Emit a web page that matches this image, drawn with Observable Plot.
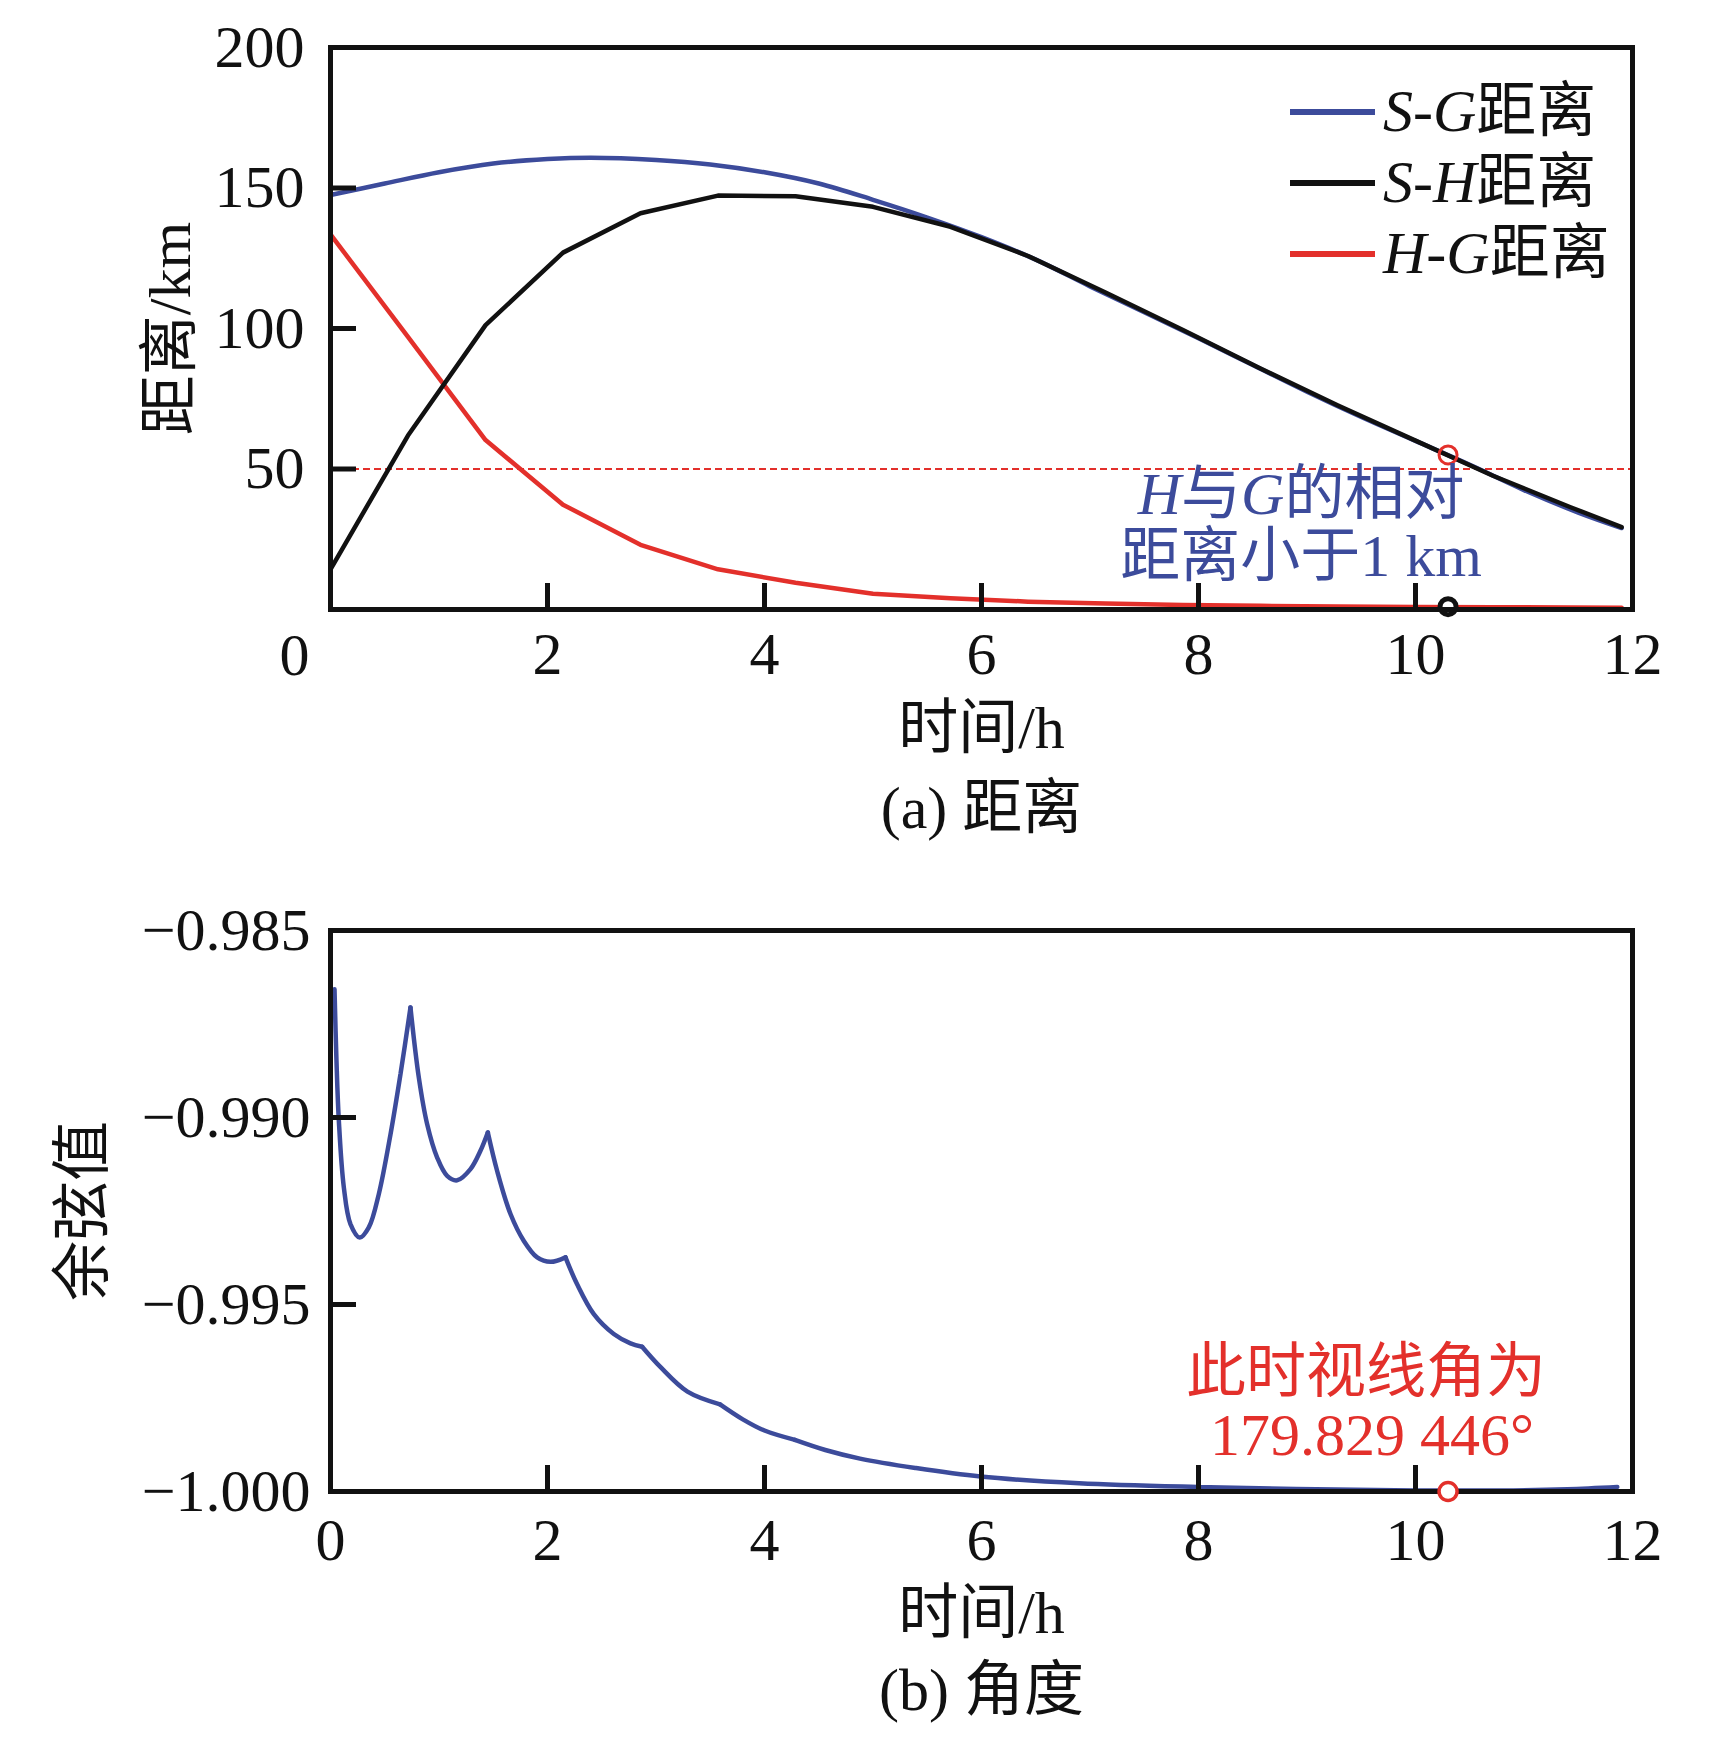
<!DOCTYPE html>
<html><head><meta charset="utf-8">
<script src="https://cdn.jsdelivr.net/npm/d3@7"></script>
<script src="https://cdn.jsdelivr.net/npm/@observablehq/plot@0.6"></script>
<style>
body{margin:0;background:#fff;}
#wrap{position:relative;width:1713px;height:1747px;background:#fff;font-family:"Liberation Serif","Noto Sans CJK SC",serif;}
#wrap svg{display:block;}
.leg{position:absolute;left:1290px;display:flex;align-items:center;height:71px;font-size:60px;color:#111;white-space:nowrap;line-height:71px;}
.leg .sw{display:inline-block;width:85px;height:6px;margin-right:8px;}
</style></head><body>
<div id="wrap"><div id="a"></div><div id="b"></div><div id="legend"></div></div>
<script>
// ---- data: (a) distances ----
const sgTime = [0,0.5,1,1.5,2,2.4,3,3.5,4,4.5,5,5.5,6,6.5,7,7.5,8,8.5,9,9.5,10,10.5,11,11.5,11.9];
const sgDist = [147.5,151.6,155.6,158.7,160.3,160.8,160,158.4,155.6,151.6,145.8,139.5,132.5,124.5,115,105.8,96.5,87,77.5,68.5,60,51.5,42.5,34.5,29];
const gridTime = [0,0.714,1.429,2.143,2.857,3.571,4.286,5,5.714,6.429,7.143,7.857,8.571,9.286,10,10.714,11.429,11.9];
const shDist = [14.3,61.9,101.2,127,141,147.3,147.1,143.3,136.2,125.8,112.8,99.5,85.8,72.6,60.1,47.6,36.4,29.3];
const hgDist = [133.5,97,60.3,37.3,23,14.3,9.5,5.6,4.0,2.8,2.1,1.6,1.3,1.1,0.9,0.8,0.7,0.6];
const thresholdDist = 50;
const markTime = 10.3;
const markSG = 55;
const markHG = 1.0;
// ---- data: (b) cosine ----
const cosTime = [0.037,0.055,0.077,0.123,0.184,0.27,0.353,0.445,0.553,0.645,0.737,0.814,0.891,0.983,1.075,1.167,1.29,1.382,1.45,1.536,1.659,1.782,1.905,2.028,2.166,2.273,2.427,2.611,2.765,2.872,3.04,3.29,3.59,3.8,4.0,4.28,4.56,4.88,5.39,5.99,6.9,7.99,8.9,9.99,10.9,11.4,11.86];
const cosValue = [-0.98657,-0.98848,-0.99009,-0.99187,-0.99285,-0.99321,-0.99294,-0.99205,-0.99045,-0.98884,-0.98706,-0.98893,-0.99018,-0.99107,-0.99156,-0.99168,-0.99138,-0.99089,-0.9904,-0.99143,-0.99258,-0.9933,-0.99374,-0.99386,-0.99374,-0.99446,-0.99526,-0.99579,-0.99604,-0.99613,-0.99667,-0.99733,-0.99767,-0.99807,-0.99837,-0.99862,-0.99889,-0.99912,-0.99937,-0.9996,-0.99978,-0.99988,-0.99993,-0.99997,-0.99997,-0.99994,-0.99988];
const cuspTime = [0.737,1.45,2.166,2.872,3.59,4.28];
const markCos = -1.0;
// ---- ticks / labels ----
const xTickMarks = [2,4,6,8,10];
const xLabelsA = [2,4,6,8,10,12];
const xLabelsB = [0,2,4,6,8,10,12];
const yTickMarksA = [50,100,150];
const yLabelsA = [50,100,150,200];
const yTickMarksB = [-0.995,-0.990];
const yLabelsB = [-1.000,-0.995,-0.990,-0.985];
const legendNames = ["S-G距离","S-H距离","H-G距离"];
const xTitle = "时间/h";
const yTitleA = "距离/km";
const yTitleB = "余弦值";
const captionA = "(a) 距离";
const captionB = "(b) 角度";
const noteA = ["H与G的相对","距离小于1 km"];
const noteB = ["此时视线角为","179.829 446°"];

const BLUE = "#3c4b9b", RED = "#e3302b", BLACK = "#111";
const FONT = '"Liberation Serif","Noto Sans CJK SC",serif';
const FS = 60;
const style = {fontFamily: FONT, fontSize: FS + "px", color: BLACK, background: "white", overflow: "visible"};
const rows = (xs, ys) => xs.map((t, i) => ({t, v: ys[i]}));

// split the cosine curve into smooth pieces that meet at the cusps
const cosRows = [];
cosTime.forEach((t, i) => {
  const seg = cuspTime.filter(c => c < t - 1e-9).length;
  cosRows.push({t, v: cosValue[i], seg});
  if (cuspTime.some(c => Math.abs(c - t) < 1e-9)) cosRows.push({t, v: cosValue[i], seg: seg + 1});
});

const chartA = Plot.plot({
  width: 1713, height: 870,
  marginLeft: 330, marginRight: 81, marginTop: 47, marginBottom: 261,
  x: {domain: [0, 12]}, y: {domain: [0, 200]},
  style,
  marks: [
    Plot.ruleY([thresholdDist], {stroke: RED, strokeWidth: 2, strokeDasharray: "7,4"}),
    Plot.line(rows(sgTime, sgDist), {x: "t", y: "v", stroke: BLUE, strokeWidth: 4.5, curve: "catmull-rom"}),
    Plot.line(rows(gridTime, hgDist), {x: "t", y: "v", stroke: RED, strokeWidth: 4.5}),
    Plot.line(rows(gridTime, shDist), {x: "t", y: "v", stroke: BLACK, strokeWidth: 4.5}),
    Plot.dot([{t: markTime, v: markSG}], {x: "t", y: "v", r: 9, stroke: RED, strokeWidth: 3, fill: "none"}),
    Plot.dot([{t: markTime, v: markHG}], {x: "t", y: "v", r: 8, stroke: BLACK, strokeWidth: 5, fill: "white"}),
    Plot.text([{t: markTime, s: noteA[0]}], {x: "t", frameAnchor: "bottom", text: "s", dx: -147, dy: -115, fill: BLUE, fontSize: FS, lineAnchor: "middle", textAnchor: "middle"}),
    Plot.text([{t: markTime, s: noteA[1]}], {x: "t", frameAnchor: "bottom", text: "s", dx: -147, dy: -53, fill: BLUE, fontSize: FS, lineAnchor: "middle", textAnchor: "middle"}),
    Plot.frame({stroke: BLACK, strokeWidth: 5}),
    Plot.axisX({ticks: xTickMarks, tickSize: -26, strokeWidth: 5, tickFormat: () => "", label: null}),
    Plot.axisY({ticks: yTickMarksA, tickSize: -26, strokeWidth: 5, tickFormat: () => "", label: null}),
    Plot.axisX({ticks: xLabelsA, tickSize: 0, tickPadding: 22, fontSize: FS, label: null, fill: BLACK}),
    Plot.text([0], {x: d => d, text: d => String(d), frameAnchor: "bottom", dx: -36, dy: 46, lineAnchor: "middle", textAnchor: "middle", fontSize: FS, fill: BLACK}),
    Plot.axisY({ticks: yLabelsA, tickSize: 0, tickPadding: 26, fontSize: FS, label: null, fill: BLACK}),
    Plot.text([xTitle], {frameAnchor: "bottom", dy: 119, lineAnchor: "middle", textAnchor: "middle", fontSize: FS, fill: BLACK}),
    Plot.text([captionA], {frameAnchor: "bottom", dy: 199, lineAnchor: "middle", textAnchor: "middle", fontSize: FS, fill: BLACK}),
    Plot.text([yTitleA], {frameAnchor: "left", dx: -160, rotate: -90, lineAnchor: "middle", textAnchor: "middle", fontSize: FS, fill: BLACK})
  ]
});

const fmtB = d => d3.format(".3f")(d).replace("-", "\u2212");
const chartB = Plot.plot({
  width: 1713, height: 877,
  marginLeft: 330, marginRight: 81, marginTop: 60, marginBottom: 256,
  x: {domain: [0, 12]}, y: {domain: [-1.0, -0.985]},
  style,
  marks: [
    Plot.line(cosRows, {x: "t", y: "v", z: "seg", stroke: BLUE, strokeWidth: 4.5, curve: "catmull-rom", strokeLinejoin: "miter"}),
    Plot.frame({stroke: BLACK, strokeWidth: 5}),
    Plot.dot([{t: markTime, v: markCos}], {x: "t", y: "v", r: 9, stroke: RED, strokeWidth: 3.5, fill: "white"}),
    Plot.text([{t: markTime, s: noteB[0]}], {x: "t", frameAnchor: "bottom", text: "s", dx: -82, dy: -119, fill: RED, fontSize: FS, lineAnchor: "middle", textAnchor: "middle"}),
    Plot.text([{t: markTime, s: noteB[1]}], {x: "t", frameAnchor: "bottom", text: "s", dx: -76, dy: -56, fill: RED, fontSize: FS, lineAnchor: "middle", textAnchor: "middle"}),
    Plot.axisX({ticks: xTickMarks, tickSize: -26, strokeWidth: 5, tickFormat: () => "", label: null}),
    Plot.axisY({ticks: yTickMarksB, tickSize: -26, strokeWidth: 5, tickFormat: () => "", label: null}),
    Plot.axisX({ticks: xLabelsB, tickSize: 0, tickPadding: 26, fontSize: FS, label: null, fill: BLACK}),
    Plot.axisY({ticks: yLabelsB, tickSize: 0, tickPadding: 20, fontSize: FS, label: null, tickFormat: fmtB, fill: BLACK}),
    Plot.text([xTitle], {frameAnchor: "bottom", dy: 122, lineAnchor: "middle", textAnchor: "middle", fontSize: FS, fill: BLACK}),
    Plot.text([captionB], {frameAnchor: "bottom", dy: 199, lineAnchor: "middle", textAnchor: "middle", fontSize: FS, fill: BLACK}),
    Plot.text([yTitleB], {frameAnchor: "left", dx: -247, rotate: -90, lineAnchor: "middle", textAnchor: "middle", fontSize: FS, fill: BLACK})
  ]
});

// italic Latin letters inside mixed text
const italicize = s => s.replace(/[SGH]/g, m => `<tspan font-style="italic">${m}</tspan>`);
chartA.querySelectorAll("text").forEach(t => {
  if (t.textContent === noteA[0]) t.innerHTML = italicize(noteA[0]);
});

document.getElementById("a").appendChild(chartA);
document.getElementById("b").appendChild(chartB);

// legend
const legColors = [BLUE, BLACK, RED];
const leg = document.getElementById("legend");
legendNames.forEach((name, i) => {
  const row = document.createElement("div");
  row.className = "leg";
  row.style.top = (76 + i * 71) + "px";
  const sw = document.createElement("span");
  sw.className = "sw";
  sw.style.background = legColors[i];
  const tx = document.createElement("span");
  tx.innerHTML = name.replace(/[SGH]/g, m => `<i>${m}</i>`);
  row.appendChild(sw); row.appendChild(tx);
  leg.appendChild(row);
});
</script>
</body></html>
